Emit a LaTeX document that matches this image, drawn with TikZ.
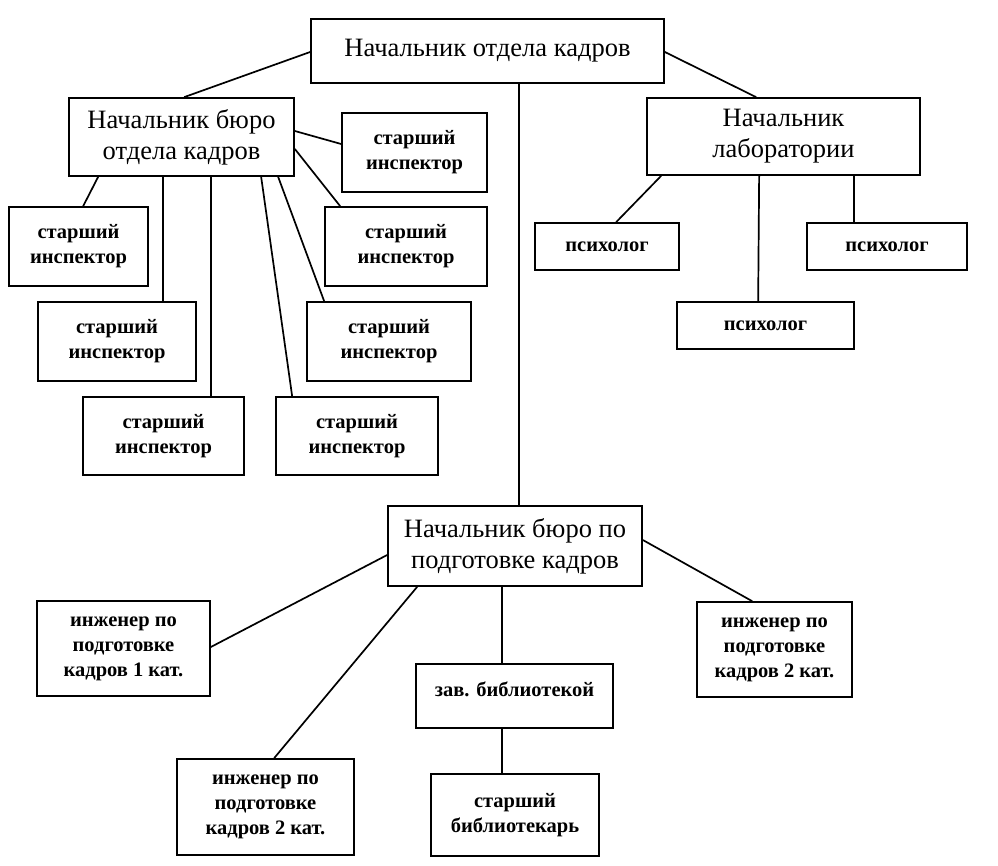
\documentclass[tikz,border=0pt]{standalone}
\usepackage{fontspec}
\setmainfont{Liberation Serif}
\begin{document}
\begin{tikzpicture}[x=1pt,y=-1pt,
  box/.style={draw, line width=1.7pt, inner sep=0pt, align=center},
  big/.style={font=\fontsize{26.5}{31}\selectfont},
  small/.style={font=\bfseries\fontsize{20.5}{25}\selectfont},
  conn/.style={line width=1.7pt}]
\useasboundingbox (0,0) rectangle (998,866);
\fill[white] (0,0) rectangle (998,866);
% nodes
\node[box,big,minimum width=353,minimum height=64] (top) at (487.5,51) {Начальник отдела кадров};
\node[box,big,minimum width=225,minimum height=78] (bur) at (181.5,137) {Начальник бюро\\отдела кадров};
\node[box,small,minimum width=145,minimum height=79] (a1) at (414.5,152.5) {старший\\инспектор};
\node[box,small,minimum width=162,minimum height=79] (a2) at (406,246.5) {старший\\инспектор};
\node[box,small,minimum width=139,minimum height=79] (b1) at (78.5,246.5) {старший\\инспектор};
\node[box,small,minimum width=158,minimum height=79] (b2) at (117,341.5) {старший\\инспектор};
\node[box,small,minimum width=161,minimum height=78] (b3) at (163.5,436) {старший\\инспектор};
\node[box,small,minimum width=164,minimum height=79] (a3) at (389,341.5) {старший\\инспектор};
\node[box,small,minimum width=162,minimum height=78] (a4) at (357,436) {старший\\инспектор};
\node[box,big,minimum width=273,minimum height=77] (lab) at (783.5,136.5) {Начальник\\лаборатории};
\node[box,small,minimum width=144,minimum height=47] (p1) at (607,246.5) {психолог};
\node[box,small,minimum width=160,minimum height=47] (p2) at (887,246.5) {психолог};
\node[box,small,minimum width=177,minimum height=47] (p3) at (765.5,325.5) {психолог};
\node[box,big,minimum width=254,minimum height=80] (bur2) at (515,546) {Начальник бюро по\\подготовке кадров};
\node[box,small,minimum width=173,minimum height=95] (e1) at (123.5,648.5) {инженер по\\подготовке\\кадров 1 кат.};
\node[box,small,minimum width=177,minimum height=96] (e2) at (265.5,807) {инженер по\\подготовке\\кадров 2 кат.};
\node[box,small,minimum width=155,minimum height=95] (e3) at (774.5,649.5) {инженер по\\подготовке\\кадров 2 кат.};
\node[box,small,minimum width=197,minimum height=64,text depth=14pt] (zav) at (514.5,696) {зав. библиотекой};
\node[box,small,minimum width=168,minimum height=82] (bib) at (515,815) {старший\\библиотекарь};
% connectors
\draw[conn] ([yshift=-1]top.west) -- ([xshift=116]bur.north west);
\draw[conn] ([yshift=-1]top.east) -- ([xshift=110]lab.north west);
\draw[conn] ([xshift=31.5]top.south) -- ([xshift=4]bur2.north);
\draw[conn] ([yshift=6]bur.east) -- ([yshift=8.5]a1.west);
\draw[conn] ([yshift=-12]bur.east) -- ([xshift=16]a2.north west);
\draw[conn] ([xshift=30]bur.south west) -- ([xshift=75]b1.north west);
\draw[conn] ([xshift=95]bur.south west) -- ([xshift=126]b2.north west);
\draw[conn] ([xshift=143]bur.south west) -- ([xshift=129]b3.north west);
\draw[conn] ([xshift=193]bur.south west) -- ([xshift=17]a4.north west);
\draw[conn] ([xshift=210]bur.south west) -- ([xshift=18]a3.north west);
\draw[conn] ([xshift=15]lab.south west) -- ([xshift=82]p1.north west);
\draw[conn] ([xshift=113]lab.south west) -- ([xshift=82]p3.north west);
\draw[conn] ([xshift=208]lab.south west) -- ([xshift=48]p2.north west);
\draw[conn] ([yshift=-9]bur2.west) -- ([yshift=1.5]e1.east);
\draw[conn] ([xshift=30]bur2.south west) -- ([xshift=98]e2.north west);
\draw[conn] ([xshift=-13]bur2.south) -- ([xshift=-12.5]zav.north);
\draw[conn] ([xshift=-12.5]zav.south) -- ([xshift=-13]bib.north);
\draw[conn] ([yshift=6]bur2.east) -- ([xshift=56]e3.north west);
\end{tikzpicture}
\end{document}
